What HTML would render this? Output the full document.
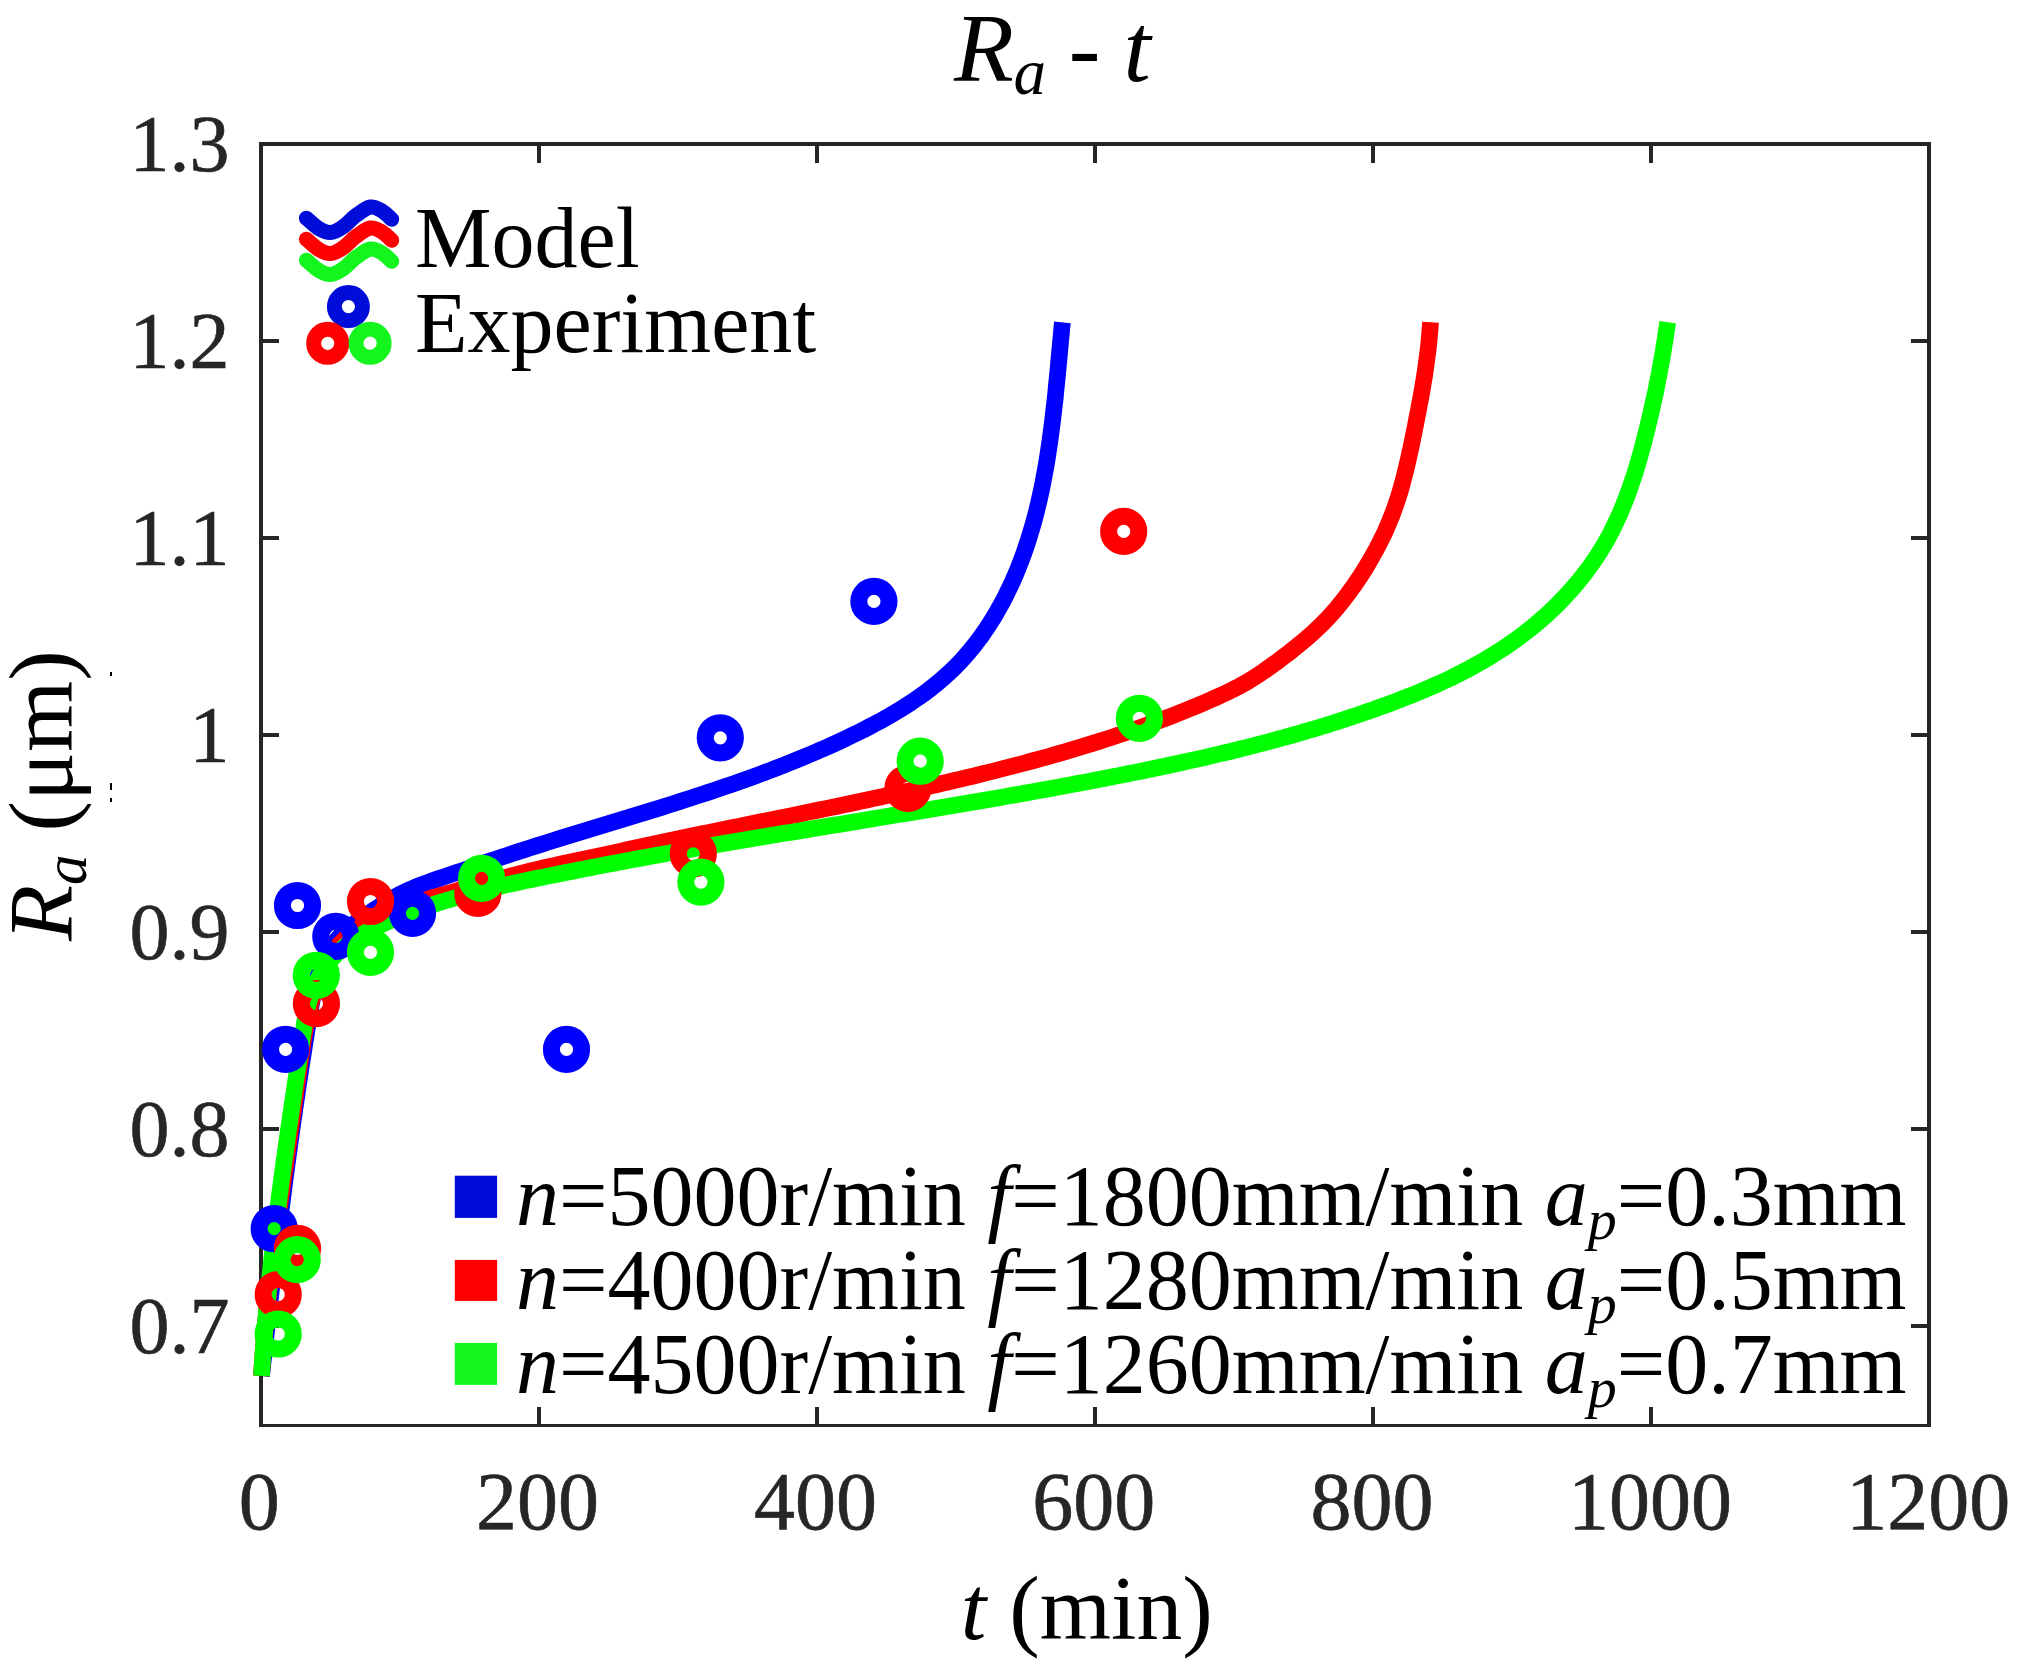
<!DOCTYPE html><html><head><meta charset="utf-8"><title>Ra - t</title>
<style>html,body{margin:0;padding:0;background:#fff}svg{display:block}text{font-family:"Liberation Serif","Times New Roman",serif}</style></head><body>
<svg width="2024" height="1672" viewBox="0 0 2024 1672">
<rect width="2024" height="1672" fill="#fff"/>
<g fill="#262626" shape-rendering="crispEdges">
<rect x="259" y="142" width="4" height="1285"/>
<rect x="1927" y="142" width="4" height="1285"/>
<rect x="259" y="142" width="1672" height="4"/>
<rect x="259" y="1424" width="1672" height="3"/>
<rect x="537" y="1407" width="4" height="17"/>
<rect x="537" y="146" width="4" height="17"/>
<rect x="815" y="1407" width="4" height="17"/>
<rect x="815" y="146" width="4" height="17"/>
<rect x="1093" y="1407" width="4" height="17"/>
<rect x="1093" y="146" width="4" height="17"/>
<rect x="1371" y="1407" width="4" height="17"/>
<rect x="1371" y="146" width="4" height="17"/>
<rect x="1649" y="1407" width="4" height="17"/>
<rect x="1649" y="146" width="4" height="17"/>
<rect x="263" y="1324" width="16" height="4"/>
<rect x="1911" y="1324" width="16" height="4"/>
<rect x="263" y="1127" width="16" height="4"/>
<rect x="1911" y="1127" width="16" height="4"/>
<rect x="263" y="930" width="16" height="4"/>
<rect x="1911" y="930" width="16" height="4"/>
<rect x="263" y="733" width="16" height="4"/>
<rect x="1911" y="733" width="16" height="4"/>
<rect x="263" y="536" width="16" height="4"/>
<rect x="1911" y="536" width="16" height="4"/>
<rect x="263" y="339" width="16" height="4"/>
<rect x="1911" y="339" width="16" height="4"/>
</g>
<g font-size="80" fill="#262626" stroke="#262626" stroke-width="0.6">
<text x="229.5" y="1352.8" text-anchor="end">0.7</text>
<text x="229.5" y="1155.8" text-anchor="end">0.8</text>
<text x="229.5" y="958.8" text-anchor="end">0.9</text>
<text x="229.5" y="761.8" text-anchor="end">1</text>
<text x="229.5" y="564.8" text-anchor="end">1.1</text>
<text x="229.5" y="367.8" text-anchor="end">1.2</text>
<text x="229.5" y="170.8" text-anchor="end">1.3</text>
<text x="259.2" y="1528.5" text-anchor="middle" font-size="82">0</text>
<text x="537.4" y="1528.5" text-anchor="middle" font-size="82">200</text>
<text x="815.5" y="1528.5" text-anchor="middle" font-size="82">400</text>
<text x="1093.7" y="1528.5" text-anchor="middle" font-size="82">600</text>
<text x="1371.9" y="1528.5" text-anchor="middle" font-size="82">800</text>
<text x="1650.0" y="1528.5" text-anchor="middle" font-size="82">1000</text>
<text x="1928.2" y="1528.5" text-anchor="middle" font-size="82">1200</text>
</g>
<g fill="none" stroke-width="16.7" stroke-linejoin="round">
<path stroke="#0000ff" d="M261.5 1376.0 L262.2 1370.1 L262.8 1364.2 L263.5 1358.3 L264.1 1352.4 L264.8 1346.5 L265.5 1340.6 L266.1 1334.6 L266.8 1328.7 L267.5 1322.8 L268.2 1316.8 L268.9 1310.9 L269.6 1304.9 L270.3 1298.9 L271.0 1293.0 L271.7 1287.0 L272.4 1281.0 L273.1 1275.0 L273.8 1269.0 L274.5 1263.1 L275.2 1257.1 L276.0 1251.1 L276.7 1245.1 L277.5 1239.1 L278.2 1233.1 L278.9 1227.1 L279.7 1221.1 L280.5 1215.1 L281.2 1209.1 L282.0 1203.1 L282.8 1197.2 L283.5 1191.2 L284.3 1185.2 L285.1 1179.2 L285.9 1173.2 L286.7 1167.3 L287.5 1161.3 L288.3 1155.3 L289.2 1149.4 L290.0 1143.4 L290.8 1137.4 L291.6 1131.5 L292.5 1125.6 L293.3 1119.6 L294.2 1113.7 L295.0 1107.8 L295.9 1101.9 L296.8 1096.0 L297.7 1090.1 L298.5 1084.2 L299.4 1078.3 L300.3 1072.5 L301.2 1066.6 L302.1 1060.7 L303.1 1054.8 L304.0 1048.9 L304.9 1043.0 L305.9 1037.0 L306.8 1031.0 L307.8 1024.9 L308.8 1018.8 L309.8 1012.7 L310.9 1006.6 L312.1 1000.4 L313.4 994.3 L314.7 988.3 L316.3 982.3 L318.0 976.4 L319.9 970.6 L322.1 965.0 L324.5 959.5 L327.1 954.3 L330.1 949.2 L333.3 944.3 L336.9 939.7 L340.9 935.4 L345.2 931.2 L349.7 927.3 L354.5 923.6 L359.3 920.0 L364.3 916.5 L369.4 913.1 L374.4 909.7 L379.5 906.4 L384.6 903.1 L389.7 900.0 L394.9 897.0 L400.1 894.2 L405.5 891.6 L410.9 889.1 L416.4 886.8 L422.0 884.6 L427.6 882.5 L433.3 880.5 L439.0 878.5 L444.7 876.6 L450.4 874.7 L456.1 872.7 L461.8 870.8 L467.5 868.8 L473.1 866.9 L478.8 864.9 L484.5 863.0 L490.2 861.0 L495.9 859.1 L501.6 857.2 L507.3 855.3 L513.0 853.4 L518.7 851.5 L524.4 849.7 L530.1 847.9 L535.9 846.0 L541.6 844.2 L547.3 842.4 L553.0 840.6 L558.8 838.8 L564.5 837.1 L570.3 835.3 L576.0 833.5 L581.7 831.8 L587.5 830.0 L593.2 828.3 L599.0 826.5 L604.7 824.8 L610.4 823.0 L616.2 821.3 L621.9 819.5 L627.7 817.8 L633.4 816.0 L639.1 814.3 L644.9 812.5 L650.6 810.7 L656.3 809.0 L662.1 807.2 L667.8 805.4 L673.5 803.6 L679.2 801.8 L684.9 799.9 L690.6 798.1 L696.3 796.2 L702.0 794.4 L707.7 792.5 L713.4 790.6 L719.1 788.7 L724.8 786.7 L730.4 784.8 L736.1 782.8 L741.7 780.8 L747.4 778.8 L753.0 776.8 L758.6 774.7 L764.3 772.6 L769.9 770.5 L775.5 768.4 L781.1 766.2 L786.6 764.0 L792.2 761.8 L797.8 759.5 L803.3 757.2 L808.9 754.9 L814.4 752.6 L819.9 750.2 L825.4 747.8 L830.9 745.3 L836.4 742.8 L841.8 740.3 L847.3 737.7 L852.7 735.1 L858.2 732.5 L863.6 729.8 L868.9 727.0 L874.3 724.2 L879.6 721.4 L884.9 718.4 L890.1 715.5 L895.3 712.4 L900.4 709.3 L905.5 706.1 L910.6 702.9 L915.5 699.5 L920.4 696.1 L925.3 692.6 L930.0 689.0 L934.7 685.3 L939.3 681.5 L943.8 677.6 L948.3 673.6 L952.6 669.5 L956.8 665.3 L961.0 661.0 L965.0 656.5 L968.9 652.0 L972.7 647.4 L976.5 642.6 L980.1 637.8 L983.6 632.9 L987.0 627.9 L990.3 622.8 L993.5 617.7 L996.6 612.5 L999.6 607.2 L1002.5 601.9 L1005.3 596.6 L1007.9 591.2 L1010.5 585.8 L1013.0 580.4 L1015.4 574.9 L1017.7 569.4 L1019.9 563.8 L1022.0 558.2 L1024.1 552.6 L1026.0 547.0 L1027.9 541.3 L1029.7 535.6 L1031.4 529.9 L1033.1 524.2 L1034.7 518.4 L1036.2 512.6 L1037.6 506.8 L1039.0 501.0 L1040.3 495.1 L1041.6 489.2 L1042.8 483.4 L1043.9 477.4 L1045.0 471.5 L1046.1 465.6 L1047.1 459.7 L1048.0 453.7 L1048.9 447.8 L1049.8 441.8 L1050.6 435.8 L1051.4 429.8 L1052.2 423.8 L1052.9 417.8 L1053.6 411.8 L1054.3 405.8 L1055.0 399.9 L1055.6 393.9 L1056.2 387.9 L1056.8 381.9 L1057.4 375.9 L1058.0 369.9 L1058.5 363.9 L1059.1 357.9 L1059.6 352.0 L1060.2 346.0 L1060.7 340.1 L1061.3 334.1 L1061.8 328.2 L1062.4 322.3"/>
<path stroke="#ff0000" d="M261.5 1376.0 L261.9 1370.1 L262.2 1364.1 L262.7 1358.2 L263.1 1352.2 L263.6 1346.3 L264.0 1340.3 L264.6 1334.4 L265.1 1328.4 L265.6 1322.5 L266.2 1316.5 L266.8 1310.5 L267.4 1304.6 L268.1 1298.6 L268.7 1292.6 L269.4 1286.6 L270.1 1280.7 L270.8 1274.7 L271.5 1268.7 L272.2 1262.7 L272.9 1256.8 L273.7 1250.8 L274.5 1244.8 L275.2 1238.8 L276.0 1232.8 L276.8 1226.9 L277.6 1220.9 L278.4 1214.9 L279.3 1208.9 L280.1 1203.0 L280.9 1197.0 L281.8 1191.0 L282.6 1185.0 L283.5 1179.1 L284.3 1173.1 L285.2 1167.1 L286.0 1161.2 L286.9 1155.2 L287.7 1149.3 L288.6 1143.3 L289.4 1137.4 L290.3 1131.4 L291.1 1125.5 L292.0 1119.6 L292.8 1113.6 L293.7 1107.7 L294.5 1101.8 L295.3 1095.9 L296.1 1090.0 L297.0 1084.1 L297.8 1078.2 L298.6 1072.3 L299.4 1066.4 L300.2 1060.5 L301.1 1054.6 L302.0 1048.7 L302.9 1042.7 L303.9 1036.8 L305.0 1030.8 L306.1 1024.8 L307.4 1018.8 L308.7 1012.7 L310.1 1006.7 L311.7 1000.7 L313.4 994.7 L315.3 988.8 L317.3 983.0 L319.5 977.3 L321.9 971.8 L324.5 966.4 L327.4 961.2 L330.5 956.2 L333.8 951.4 L337.4 946.9 L341.3 942.6 L345.5 938.6 L349.9 934.8 L354.5 931.2 L359.3 927.8 L364.4 924.7 L369.6 921.7 L374.9 918.9 L380.4 916.3 L386.1 913.8 L391.8 911.4 L397.6 909.2 L403.5 907.0 L409.5 905.0 L415.5 903.0 L421.5 901.1 L427.5 899.3 L433.5 897.5 L439.5 895.8 L445.4 894.1 L451.3 892.4 L457.1 890.7 L462.9 889.0 L468.7 887.4 L474.5 885.8 L480.2 884.1 L485.9 882.6 L491.7 881.0 L497.4 879.5 L503.1 878.0 L508.8 876.5 L514.5 875.0 L520.2 873.5 L526.0 872.1 L531.7 870.7 L537.5 869.3 L543.3 868.0 L549.2 866.6 L555.1 865.3 L561.0 864.0 L567.0 862.8 L573.0 861.5 L578.9 860.2 L584.9 859.0 L590.9 857.7 L596.8 856.5 L602.7 855.2 L608.6 853.9 L614.5 852.6 L620.3 851.3 L626.1 850.0 L631.9 848.7 L637.7 847.5 L643.6 846.2 L649.4 844.9 L655.2 843.6 L661.1 842.4 L666.9 841.1 L672.8 839.9 L678.7 838.7 L684.6 837.5 L690.5 836.2 L696.3 835.0 L702.2 833.8 L708.1 832.6 L714.0 831.4 L719.9 830.2 L725.8 829.0 L731.7 827.8 L737.6 826.6 L743.5 825.4 L749.3 824.2 L755.2 823.0 L761.1 821.8 L767.0 820.6 L772.9 819.5 L778.8 818.3 L784.6 817.1 L790.5 815.9 L796.4 814.7 L802.3 813.5 L808.1 812.2 L814.0 811.0 L819.9 809.8 L825.8 808.6 L831.6 807.4 L837.5 806.2 L843.4 804.9 L849.3 803.7 L855.1 802.5 L861.0 801.2 L866.9 800.0 L872.7 798.7 L878.6 797.5 L884.5 796.2 L890.3 794.9 L896.2 793.7 L902.0 792.4 L907.9 791.1 L913.8 789.8 L919.6 788.5 L925.5 787.2 L931.3 785.8 L937.2 784.5 L943.0 783.2 L948.9 781.8 L954.7 780.4 L960.6 779.1 L966.4 777.7 L972.3 776.3 L978.1 774.8 L983.9 773.4 L989.8 772.0 L995.6 770.5 L1001.4 769.0 L1007.2 767.5 L1013.0 766.0 L1018.9 764.5 L1024.7 763.0 L1030.5 761.4 L1036.2 759.9 L1042.0 758.3 L1047.8 756.7 L1053.6 755.0 L1059.4 753.4 L1065.1 751.7 L1070.9 750.0 L1076.6 748.3 L1082.4 746.6 L1088.1 744.8 L1093.8 743.0 L1099.5 741.2 L1105.2 739.4 L1110.9 737.6 L1116.6 735.7 L1122.3 733.8 L1128.0 731.9 L1133.6 729.9 L1139.3 727.9 L1144.9 725.9 L1150.6 723.9 L1156.2 721.8 L1161.8 719.7 L1167.4 717.6 L1173.0 715.4 L1178.5 713.2 L1184.1 711.0 L1189.6 708.8 L1195.2 706.5 L1200.7 704.2 L1206.2 701.8 L1211.7 699.4 L1217.1 697.0 L1222.6 694.5 L1228.0 691.9 L1233.4 689.3 L1238.7 686.6 L1244.0 683.7 L1249.1 680.7 L1254.2 677.5 L1259.3 674.2 L1264.3 670.9 L1269.2 667.4 L1274.1 663.9 L1278.9 660.4 L1283.7 656.7 L1288.5 653.1 L1293.2 649.4 L1297.9 645.6 L1302.6 641.8 L1307.1 637.9 L1311.6 634.0 L1316.0 629.9 L1320.3 625.8 L1324.6 621.5 L1328.7 617.2 L1332.7 612.7 L1336.7 608.2 L1340.5 603.5 L1344.2 598.8 L1347.9 594.0 L1351.4 589.2 L1354.9 584.3 L1358.3 579.3 L1361.6 574.3 L1364.8 569.2 L1367.9 564.1 L1370.9 558.9 L1373.8 553.7 L1376.7 548.5 L1379.4 543.2 L1382.1 537.9 L1384.7 532.6 L1387.1 527.1 L1389.4 521.6 L1391.7 516.0 L1393.8 510.4 L1395.8 504.8 L1397.7 499.1 L1399.5 493.4 L1401.2 487.6 L1402.8 481.8 L1404.3 476.0 L1405.8 470.2 L1407.2 464.3 L1408.5 458.5 L1409.8 452.6 L1411.1 446.8 L1412.3 440.9 L1413.5 435.0 L1414.7 429.1 L1415.9 423.2 L1417.0 417.3 L1418.2 411.4 L1419.3 405.5 L1420.4 399.6 L1421.5 393.7 L1422.5 387.8 L1423.5 381.9 L1424.5 376.0 L1425.4 370.0 L1426.2 364.1 L1427.0 358.2 L1427.8 352.2 L1428.5 346.2 L1429.1 340.3 L1429.6 334.3 L1430.1 328.3 L1430.5 322.3"/>
<path stroke="#00ff00" d="M261.5 1376.0 L261.9 1370.0 L262.3 1364.0 L262.7 1358.0 L263.1 1352.0 L263.6 1346.0 L264.0 1340.0 L264.5 1334.0 L265.0 1328.0 L265.5 1322.0 L266.1 1316.0 L266.6 1310.0 L267.2 1304.0 L267.7 1298.1 L268.3 1292.1 L268.9 1286.1 L269.5 1280.1 L270.2 1274.1 L270.8 1268.2 L271.5 1262.2 L272.1 1256.2 L272.8 1250.3 L273.5 1244.3 L274.2 1238.3 L274.9 1232.4 L275.6 1226.4 L276.3 1220.4 L277.1 1214.5 L277.8 1208.5 L278.6 1202.5 L279.3 1196.6 L280.1 1190.6 L280.9 1184.7 L281.7 1178.7 L282.5 1172.8 L283.3 1166.8 L284.1 1160.9 L285.0 1154.9 L285.8 1149.0 L286.6 1143.0 L287.5 1137.1 L288.3 1131.1 L289.2 1125.2 L290.1 1119.2 L290.9 1113.3 L291.8 1107.3 L292.7 1101.4 L293.6 1095.4 L294.4 1089.5 L295.3 1083.5 L296.2 1077.6 L297.1 1071.7 L298.0 1065.7 L298.9 1059.8 L299.8 1053.8 L300.7 1047.9 L301.7 1041.9 L302.6 1036.0 L303.5 1030.0 L304.4 1024.1 L305.3 1018.2 L306.3 1012.2 L307.6 1006.4 L309.1 1000.5 L310.9 994.8 L313.1 989.1 L315.6 983.5 L318.4 978.1 L321.5 972.9 L324.9 967.8 L328.5 962.9 L332.4 958.3 L336.5 953.9 L340.9 949.7 L345.5 945.9 L350.3 942.2 L355.2 938.8 L360.3 935.6 L365.6 932.6 L370.9 929.7 L376.4 927.0 L381.9 924.4 L387.4 921.9 L393.0 919.5 L398.6 917.2 L404.2 914.9 L409.9 912.8 L415.5 910.7 L421.2 908.6 L426.9 906.7 L432.6 904.8 L438.3 902.9 L444.1 901.1 L449.8 899.4 L455.6 897.7 L461.4 896.1 L467.2 894.5 L473.0 893.0 L478.8 891.5 L484.6 890.0 L490.4 888.6 L496.3 887.2 L502.1 885.9 L508.0 884.5 L513.8 883.3 L519.7 882.0 L525.6 880.7 L531.5 879.5 L537.3 878.3 L543.2 877.1 L549.1 875.9 L555.0 874.7 L560.9 873.5 L566.8 872.3 L572.7 871.2 L578.6 870.0 L584.5 868.9 L590.3 867.7 L596.2 866.6 L602.1 865.4 L608.0 864.3 L613.9 863.2 L619.8 862.1 L625.7 861.0 L631.6 859.9 L637.6 858.8 L643.5 857.7 L649.4 856.6 L655.3 855.5 L661.2 854.5 L667.1 853.4 L673.0 852.4 L678.9 851.3 L684.9 850.3 L690.8 849.2 L696.7 848.2 L702.6 847.2 L708.5 846.1 L714.5 845.1 L720.4 844.1 L726.3 843.1 L732.2 842.1 L738.2 841.1 L744.1 840.1 L750.0 839.1 L755.9 838.1 L761.9 837.1 L767.8 836.1 L773.7 835.1 L779.7 834.1 L785.6 833.1 L791.5 832.2 L797.5 831.2 L803.4 830.2 L809.3 829.2 L815.3 828.2 L821.2 827.3 L827.1 826.3 L833.1 825.3 L839.0 824.4 L844.9 823.4 L850.9 822.4 L856.8 821.4 L862.7 820.5 L868.7 819.5 L874.6 818.5 L880.5 817.6 L886.5 816.6 L892.4 815.6 L898.3 814.6 L904.3 813.7 L910.2 812.7 L916.1 811.7 L922.1 810.7 L928.0 809.7 L933.9 808.7 L939.9 807.8 L945.8 806.8 L951.7 805.8 L957.7 804.8 L963.6 803.8 L969.5 802.8 L975.4 801.7 L981.4 800.7 L987.3 799.7 L993.2 798.7 L999.1 797.7 L1005.1 796.6 L1011.0 795.6 L1016.9 794.6 L1022.8 793.5 L1028.7 792.5 L1034.6 791.4 L1040.6 790.3 L1046.5 789.3 L1052.4 788.2 L1058.3 787.1 L1064.2 786.0 L1070.1 784.9 L1076.0 783.8 L1081.9 782.7 L1087.8 781.6 L1093.7 780.5 L1099.6 779.3 L1105.5 778.2 L1111.4 777.0 L1117.3 775.9 L1123.2 774.7 L1129.1 773.5 L1135.0 772.4 L1140.8 771.2 L1146.7 770.0 L1152.6 768.8 L1158.5 767.5 L1164.4 766.3 L1170.2 765.0 L1176.1 763.8 L1182.0 762.5 L1187.8 761.2 L1193.7 759.9 L1199.5 758.6 L1205.4 757.3 L1211.2 755.9 L1217.1 754.5 L1222.9 753.2 L1228.7 751.8 L1234.6 750.4 L1240.4 748.9 L1246.2 747.5 L1252.0 746.0 L1257.8 744.5 L1263.6 743.0 L1269.4 741.5 L1275.2 739.9 L1281.0 738.3 L1286.8 736.7 L1292.6 735.1 L1298.4 733.5 L1304.1 731.8 L1309.9 730.1 L1315.6 728.4 L1321.4 726.6 L1327.1 724.9 L1332.9 723.1 L1338.6 721.3 L1344.3 719.4 L1350.0 717.5 L1355.8 715.6 L1361.5 713.7 L1367.1 711.7 L1372.8 709.8 L1378.5 707.7 L1384.2 705.7 L1389.8 703.6 L1395.5 701.5 L1401.1 699.3 L1406.7 697.1 L1412.3 694.9 L1417.9 692.6 L1423.5 690.3 L1429.0 687.9 L1434.5 685.5 L1440.0 683.0 L1445.5 680.5 L1450.9 677.9 L1456.3 675.2 L1461.7 672.5 L1467.0 669.8 L1472.3 666.9 L1477.5 664.0 L1482.7 661.1 L1487.9 658.0 L1493.0 654.9 L1498.1 651.7 L1503.1 648.5 L1508.1 645.1 L1513.0 641.7 L1517.9 638.2 L1522.7 634.6 L1527.5 630.9 L1532.2 627.2 L1536.8 623.4 L1541.4 619.4 L1545.9 615.4 L1550.3 611.4 L1554.7 607.2 L1558.9 603.0 L1563.1 598.7 L1567.2 594.3 L1571.3 589.8 L1575.2 585.3 L1579.1 580.7 L1582.8 576.0 L1586.5 571.2 L1590.0 566.4 L1593.5 561.5 L1596.8 556.5 L1600.0 551.5 L1603.2 546.4 L1606.2 541.2 L1609.1 535.9 L1611.9 530.6 L1614.5 525.3 L1617.1 519.8 L1619.6 514.4 L1621.9 508.8 L1624.2 503.3 L1626.4 497.6 L1628.5 492.0 L1630.5 486.3 L1632.5 480.6 L1634.4 474.8 L1636.2 469.0 L1637.9 463.3 L1639.6 457.4 L1641.2 451.6 L1642.8 445.8 L1644.3 439.9 L1645.8 434.1 L1647.3 428.3 L1648.7 422.4 L1650.1 416.6 L1651.4 410.8 L1652.7 404.9 L1654.0 399.1 L1655.3 393.3 L1656.5 387.4 L1657.6 381.6 L1658.8 375.7 L1659.9 369.8 L1661.0 364.0 L1662.0 358.1 L1663.1 352.2 L1664.0 346.2 L1665.0 340.3 L1665.9 334.3 L1666.8 328.3 L1667.7 322.3"/>
</g>
<g fill="none" stroke-width="17.0">
<circle cx="274.2" cy="1228.7" r="15.1" stroke="#0000ff"/>
<circle cx="285.6" cy="1049.3" r="15.1" stroke="#0000ff"/>
<circle cx="297.5" cy="905.5" r="15.1" stroke="#0000ff"/>
<circle cx="335.8" cy="936.4" r="15.1" stroke="#0000ff"/>
<circle cx="412.5" cy="913.3" r="15.1" stroke="#0000ff"/>
<circle cx="566.5" cy="1049.4" r="15.1" stroke="#0000ff"/>
<circle cx="720.3" cy="737.8" r="15.1" stroke="#0000ff"/>
<circle cx="873.9" cy="601.4" r="15.1" stroke="#0000ff"/>
<circle cx="278.2" cy="1294.5" r="15.1" stroke="#ff0000"/>
<circle cx="297.5" cy="1248.4" r="15.1" stroke="#ff0000"/>
<circle cx="316.4" cy="1003.6" r="15.1" stroke="#ff0000"/>
<circle cx="370.5" cy="901.5" r="15.1" stroke="#ff0000"/>
<circle cx="477.8" cy="893.4" r="15.1" stroke="#ff0000"/>
<circle cx="693.3" cy="853.8" r="15.1" stroke="#ff0000"/>
<circle cx="907.9" cy="788.3" r="15.1" stroke="#ff0000"/>
<circle cx="1123.7" cy="531.4" r="15.1" stroke="#ff0000"/>
<circle cx="278.2" cy="1334.0" r="15.1" stroke="#00ff00"/>
<circle cx="297.2" cy="1259.6" r="15.1" stroke="#00ff00"/>
<circle cx="316.3" cy="975.3" r="15.1" stroke="#00ff00"/>
<circle cx="370.5" cy="952.3" r="15.1" stroke="#00ff00"/>
<circle cx="481.6" cy="878.3" r="15.1" stroke="#00ff00"/>
<circle cx="700.9" cy="882.1" r="15.1" stroke="#00ff00"/>
<circle cx="920.2" cy="761.2" r="15.1" stroke="#00ff00"/>
<circle cx="1139.4" cy="718.3" r="15.1" stroke="#00ff00"/>
</g>
<g fill="none" stroke-width="15" stroke-linecap="round" stroke-linejoin="round">
<path stroke="#000cd8" d="M306.4 218.2 C308.4 219.9 314.4 225.8 318.4 228.2 C322.4 230.6 326.4 232.7 330.4 232.5 C334.4 232.3 338.1 230.1 342.4 227.2 C346.7 224.3 351.7 218.6 356.4 215.2 C361.1 211.8 366.1 207.7 370.4 207.0 C374.7 206.3 378.8 209.2 382.4 211.2 C385.9 213.2 390.1 217.9 391.7 219.2"/>
<path stroke="#ff0000" d="M306.4 239.2 C308.4 240.9 314.4 246.8 318.4 249.2 C322.4 251.6 326.4 253.7 330.4 253.5 C334.4 253.3 338.1 251.1 342.4 248.2 C346.7 245.3 351.7 239.6 356.4 236.2 C361.1 232.8 366.1 228.7 370.4 228.0 C374.7 227.3 378.8 230.2 382.4 232.2 C385.9 234.2 390.1 238.9 391.7 240.2"/>
<path stroke="#14f51e" d="M306.4 260.2 C308.4 261.9 314.4 267.8 318.4 270.2 C322.4 272.6 326.4 274.7 330.4 274.5 C334.4 274.3 338.1 272.1 342.4 269.2 C346.7 266.3 351.7 260.6 356.4 257.2 C361.1 253.8 366.1 249.7 370.4 249.0 C374.7 248.3 378.8 251.2 382.4 253.2 C385.9 255.2 390.1 259.9 391.7 261.2"/>
</g>
<g fill="none" stroke-width="14.9">
<circle cx="348.4" cy="306.6" r="14.05" stroke="#000cd8"/>
<circle cx="327.7" cy="343.3" r="14.05" stroke="#ff0000"/>
<circle cx="370.1" cy="343.2" r="14.05" stroke="#14f51e"/>
</g>
<g font-size="86" fill="#000">
<text x="415" y="266.7">Model</text>
<text x="415" y="351.5">Experiment</text>
</g>
<rect x="454.8" y="1175.7" width="42.3" height="42.2" fill="#000cd8"/>
<rect x="454.8" y="1259.9" width="42.3" height="41.0" fill="#ff0000"/>
<rect x="454.8" y="1342.9" width="42.3" height="42.0" fill="#14f51e"/>
<g font-size="86" fill="#000">
<text x="516" y="1225.0"><tspan font-style="italic">n</tspan>=5000r/min <tspan font-style="italic">f</tspan>=1800mm/min <tspan font-style="italic">a</tspan><tspan font-style="italic" font-size="58" dy="14">p</tspan><tspan dy="-14">=0.3mm</tspan></text>
<text x="516" y="1308.8"><tspan font-style="italic">n</tspan>=4000r/min <tspan font-style="italic">f</tspan>=1280mm/min <tspan font-style="italic">a</tspan><tspan font-style="italic" font-size="58" dy="14">p</tspan><tspan dy="-14">=0.5mm</tspan></text>
<text x="516" y="1392.6"><tspan font-style="italic">n</tspan>=4500r/min <tspan font-style="italic">f</tspan>=1260mm/min <tspan font-style="italic">a</tspan><tspan font-style="italic" font-size="58" dy="14">p</tspan><tspan dy="-14">=0.7mm</tspan></text>
</g>
<g fill="#000">
<text x="954" y="80.8" font-size="98" font-style="italic">R</text>
<text x="1013.5" y="93.9" font-size="65" font-style="italic">a</text>
<text x="1068.8" y="80.4" font-size="95" font-family="Liberation Sans,Arial,sans-serif">-</text>
<text x="1123.5" y="80.8" font-size="98" font-style="italic">t</text>
</g>
<text x="960.8" y="1638.6" font-size="91.67" fill="#000"><tspan font-style="italic">t</tspan> (min)</text>
<g transform="translate(71.9,941) rotate(-90)" fill="#000"><text x="0" y="0" font-size="91.67"><tspan font-style="italic">R</tspan><tspan font-style="italic" font-size="61" dy="13.7">a</tspan><tspan dy="-13.7"> (μm)</tspan></text></g>
<g fill="#000" shape-rendering="crispEdges"><rect x="110" y="672" width="2" height="4"/><rect x="110" y="783" width="2" height="7"/><rect x="110" y="798" width="2" height="4"/></g>
</svg></body></html>
